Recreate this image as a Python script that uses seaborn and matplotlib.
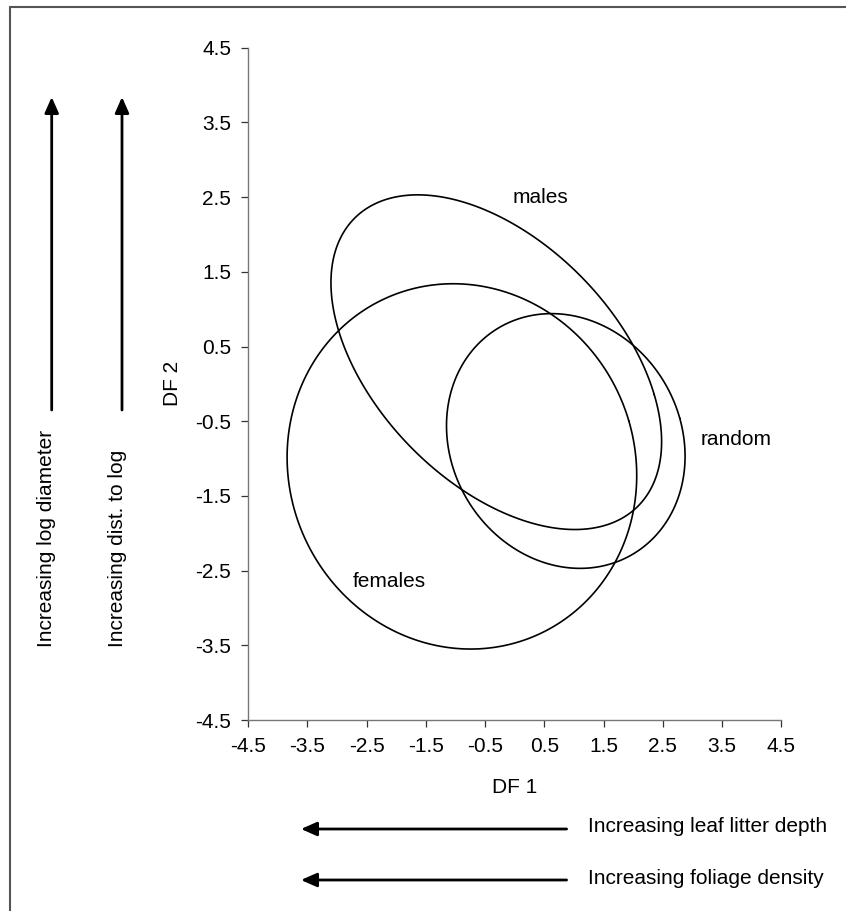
import numpy as np
import pandas as pd
import matplotlib
matplotlib.use("Agg")
import matplotlib.pyplot as plt
import seaborn as sns
from matplotlib.lines import Line2D

# ---- data ----
groups = ["males", "females", "random"]
center_x = [-0.31, -0.89, 0.863]
center_y = [0.29, -1.105, -0.765]
half_x = [2.79, 2.95, 2.013]
half_y = [2.24, 2.445, 1.705]
rho = [-0.475, -0.05, -0.12]
label_x = [0.43, -2.12, 3.73]
label_y = [2.49, -2.65, -0.75]

tick_values = [-4.5, -3.5, -2.5, -1.5, -0.5, 0.5, 1.5, 2.5, 3.5, 4.5]
tick_labels = ["-4.5", "-3.5", "-2.5", "-1.5", "-0.5", "0.5", "1.5", "2.5", "3.5", "4.5"]
x_title = "DF 1"
y_title = "DF 2"
vertical_notes = ["Increasing log diameter", "Increasing dist. to log"]
horizontal_notes = ["Increasing leaf litter depth", "Increasing foliage density"]

# ---- style ----
sns.set_theme(style="white")
plt.rcParams["font.family"] = ["Liberation Sans", "DejaVu Sans"]
plt.rcParams["axes.unicode_minus"] = False
plt.rcParams["text.color"] = "black"
plt.rcParams["path.simplify"] = False

W, H = 846, 911
FS = 15
fig = plt.figure(figsize=(W / 100, H / 100), dpi=100)
fig.patch.set_facecolor("white")
ax = fig.add_axes([248 / W, 1 - 720 / H, (781.3 - 248) / W, (720 - 47.7) / H])

# ---- ellipses ----
t = np.linspace(0.3, 0.3 + 2 * np.pi, 721)
for g, cx, cy, hx, hy, r in zip(groups, center_x, center_y, half_x, half_y, rho):
    xs = cx + hx * np.cos(t)
    ys = cy + hy * (r * np.cos(t) + np.sqrt(1 - r * r) * np.sin(t))
    df = pd.DataFrame({"DF1": xs, "DF2": ys})
    sns.lineplot(data=df, x="DF1", y="DF2", sort=False, estimator=None,
                 color="black", lw=1.2, solid_capstyle="round",
                 solid_joinstyle="round", ax=ax)

for g, lx, ly in zip(groups, label_x, label_y):
    ax.text(lx, ly, g, ha="center", va="center", fontsize=FS, color="black")

ax.set_xlim(-4.5, 4.5)
ax.set_ylim(-4.5, 4.5)
ax.set_xticks(tick_values)
ax.set_xticklabels(tick_labels)
ax.set_yticks(tick_values)
ax.set_yticklabels(tick_labels)
sns.despine(ax=ax)
for s in ["left", "bottom"]:
    ax.spines[s].set_color("#777777")
    ax.spines[s].set_linewidth(1.0)
ax.tick_params(direction="out", length=5, width=0.9, color="#333333",
               labelsize=FS, labelcolor="black", pad=7, left=True, bottom=True)

ax.set_xlabel(x_title, fontsize=FS, color="black")
ax.set_ylabel(y_title, fontsize=FS, color="black")
ax.xaxis.label.set_va("center")
ax.yaxis.label.set_va("center")
ax.xaxis.set_label_coords(0.5, -0.101)
ax.yaxis.set_label_coords(-0.1425, 0.5)

# ---- side arrows and notes ----
arrow_kw = dict(arrowstyle="-|>,head_length=0.95,head_width=0.42", lw=2.0,
                color="black", shrinkA=0, shrinkB=0, mutation_scale=10)
for xpx in [51.7, 122.0]:
    ax.annotate("", xy=(xpx, H - 97), xytext=(xpx, H - 410),
                xycoords="figure pixels", textcoords="figure pixels",
                arrowprops=arrow_kw, annotation_clip=False)
for xpx, note in zip([47, 117], vertical_notes):
    fig.text(xpx / W, (H - 647) / H, note, rotation=90, ha="center",
             va="bottom", fontsize=FS, color="black")

for ypx in [829, 880]:
    ax.annotate("", xy=(301, H - ypx), xytext=(566.6, H - ypx),
                xycoords="figure pixels", textcoords="figure pixels",
                arrowprops=arrow_kw, annotation_clip=False)
for ypx, note in zip([827, 878], horizontal_notes):
    fig.text(588 / W, (H - ypx) / H, note, ha="left", va="center",
             fontsize=FS, color="black")

# ---- frame lines of the scanned figure ----
fig.add_artist(Line2D([10 / W, 10 / W], [0, 1 - 7 / H], transform=fig.transFigure,
                      color="#555555", lw=1.5))
fig.add_artist(Line2D([10 / W, 1], [1 - 7 / H, 1 - 7 / H], transform=fig.transFigure,
                      color="#555555", lw=1.5))

fig.savefig("out.png", dpi=100, facecolor="white")
